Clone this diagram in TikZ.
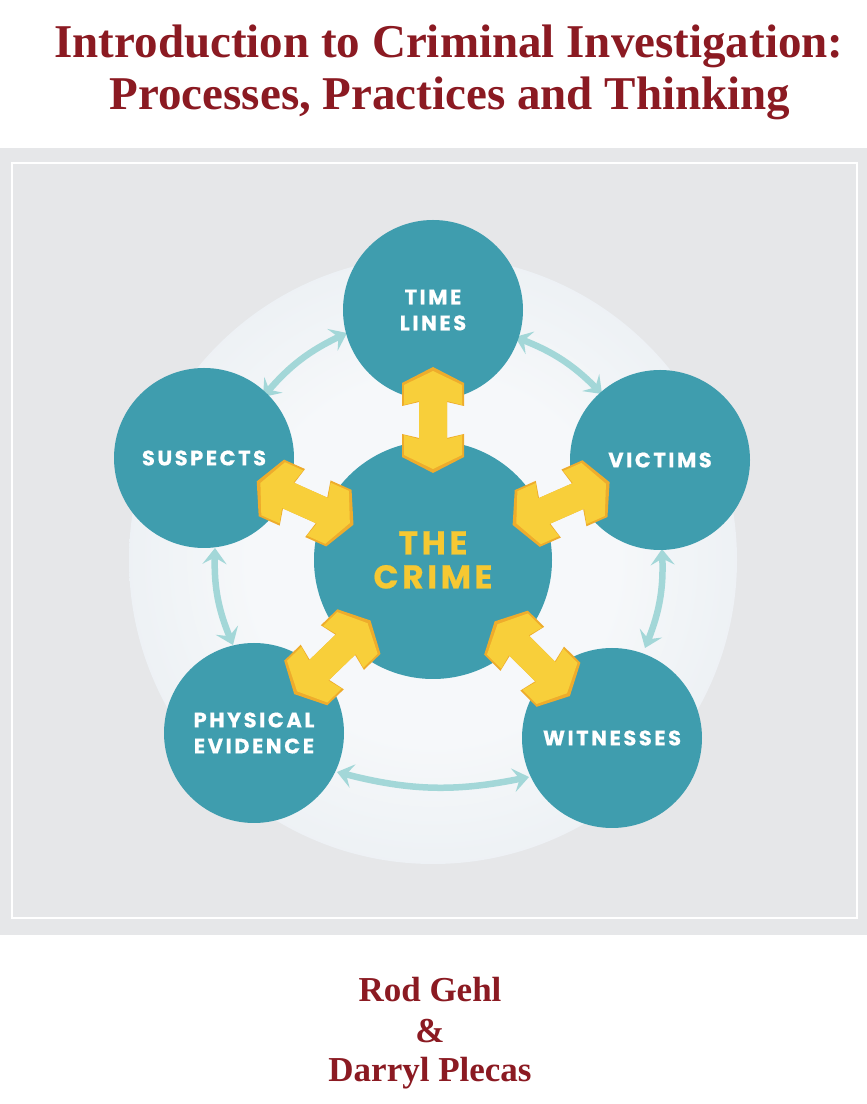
\documentclass[tikz,border=0pt]{standalone}
\usepackage{fontspec}
\setmainfont{Liberation Serif}
\newfontfamily\labfont[LetterSpace=12, BoldFeatures={FakeBold=0.5}]{Poppins}
\newfontfamily\crimefont[LetterSpace=11, BoldFeatures={FakeBold=0.5}]{Poppins}
\usetikzlibrary{arrows.meta,calc}
\definecolor{titlered}{RGB}{139,26,34}
\definecolor{panelgray}{RGB}{230,231,233}
\definecolor{teal}{RGB}{63,157,174}
\definecolor{lteal}{RGB}{163,215,216}
\definecolor{cyellow}{RGB}{248,207,58}
\definecolor{corange}{RGB}{238,172,44}
\definecolor{txtyellow}{RGB}{246,200,50}
\definecolor{haloin}{RGB}{246,248,250}
\definecolor{halomid}{RGB}{228,234,239}
\definecolor{haloout}{RGB}{212,222,230}
\pgfdeclareradialshading{halo}{\pgfpoint{0bp}{0bp}}{color(0bp)=(haloin); color(15bp)=(haloin); color(36bp)=(halomid); color(47bp)=(haloout); color(50bp)=(haloout)}
\tikzset{
  titletext/.style={anchor=base, text=titlered, font=\bfseries\fontsize{47}{50}\selectfont, inner sep=0},
  authortext/.style={anchor=base, text=titlered, font=\bfseries\fontsize{35}{38}\selectfont, inner sep=0},
  bub/.style={circle, fill=teal, inner sep=0, minimum size=180pt, text=white, align=center,
    font=\labfont\bfseries\fontsize{21}{26}\selectfont},
  larrow/.style={draw=lteal, line width=6.5pt,
    {Stealth[length=16pt,width=24pt,inset=6.5pt]}-{Stealth[length=16pt,width=24pt,inset=6.5pt]}},
  yarrow/.pic={
    \fill[corange] (53,0) -- (37,31) -- (14,31) -- (18,14) -- (-18,14) -- (-14,31) -- (-37,31) -- (-53,0)
      -- (-37,-31) -- (-14,-31) -- (-18,-14) -- (18,-14) -- (14,-31) -- (37,-31) -- cycle;
    \fill[cyellow] (49,0) -- (35,29) -- (15,29) -- (19,14) -- (-19,14) -- (-15,29) -- (-35,29) -- (-49,0)
      -- (-35,-29) -- (-15,-29) -- (-19,-14) -- (19,-14) -- (15,-29) -- (35,-29) -- cycle;
  }
}
\begin{document}
\begin{tikzpicture}[x=1pt,y=1pt]
\useasboundingbox (0,0) rectangle (867,1104);
\fill[white] (0,0) rectangle (867,1104);
% panel
\fill[panelgray] (0,169) rectangle (867,956);
\draw[white, line width=1.3pt] (12,186) rectangle (857,941);
% titles
\node[titletext] (t1) at (449,1046) {Introduction to Criminal Investigation:};
\node[titletext] (t2) at (450,994) {Processes, Practices and Thinking};
\node[authortext] (au1) at (430,102) {Rod Gehl};
\node[authortext] (au2) at (430,61) {\&};
\node[authortext] (au3) at (430,22) {Darryl Plecas};
% halo
\coordinate (hc) at (433,544);
\shade[shading=halo] (hc) circle (304);
% light arrow ends
\coordinate (a1s) at (263,707); \coordinate (a1t) at (347,771);
\coordinate (a2t) at (515,767); \coordinate (a2v) at (602,710);
\coordinate (a3v) at (662,555); \coordinate (a3w) at (645,456);
\coordinate (a4w) at (529,327); \coordinate (a4p) at (337,332);
\coordinate (a5p) at (233,459); \coordinate (a5s) at (215,556);
\draw[larrow] (a1s) to[bend left=12] (a1t);
\draw[larrow] (a2t) to[bend left=12] (a2v);
\draw[larrow] (a3v) to[bend left=12] (a3w);
\draw[larrow] (a4w) to[bend left=13] (a4p);
\draw[larrow] (a5p) to[bend left=12] (a5s);
% circles
\node[bub, minimum size=238pt, text=txtyellow, font=\crimefont\bfseries\fontsize{33}{34}\selectfont] (C) at (hc) {THE\\CRIME};
\node[bub] (T) at (433,794) {TIME\\LINES};
\node[bub] (V) at (660,644) {VICTIMS};
\node[bub] (S) at (204,646) {SUSPECTS};
\node[bub] (P) at (254,371) {PHYSICAL\\EVIDENCE};
\node[bub] (W) at (612,366) {WITNESSES};
% yellow double arrows
\pic[rotate=90] at ($(C)!140pt!(T)$) {yarrow};
\pic[rotate=23.8] at ($(C)!140pt!(V)$) {yarrow};
\pic[rotate=155.9] at ($(C)!140pt!(S)$) {yarrow};
\pic[rotate=224] at ($(C)!140pt!(P)$) {yarrow};
\pic[rotate=315.2] at ($(C)!140pt!(W)$) {yarrow};
\end{tikzpicture}
\end{document}
